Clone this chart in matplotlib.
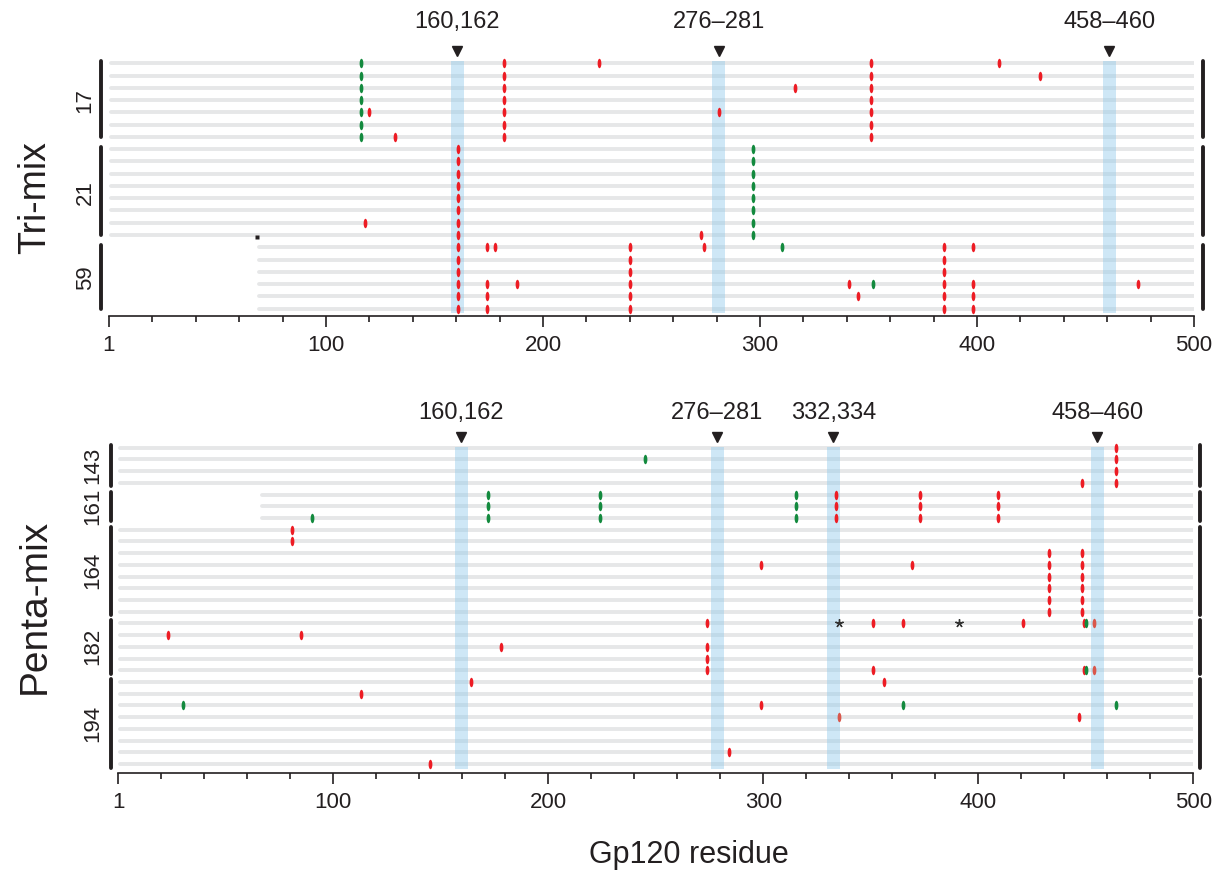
import numpy as np
import matplotlib.pyplot as plt
from matplotlib.path import Path

plt.rcParams['font.family'] = ['Liberation Sans', 'DejaVu Sans']

# ---- Tri-mix panel ----
tri_groups = ['17', '21', '59']
tri_sizes = [7, 8, 6]
tri_starts = [1, 1, 69]
tri_bands = [160.5, 281, 461]
tri_band_labels = ['160,162', '276–281', '458–460']
# (residue, rows)
tri_red = [(120, [4]), (132, [6]), (161, list(range(7, 21))), (118, [13]),
           (174, [15, 18, 19, 20]), (178, [15]), (182, list(range(0, 7))),
           (226, [0]), (188, [18]), (240, list(range(15, 21))), (273, [14]),
           (274, [15]), (281, [4]), (316, [2]), (351, list(range(0, 7))),
           (341, [18]), (345, [19]), (410, [0]), (429, [1]),
           (385, list(range(15, 21))), (398, [15, 18, 19, 20]), (474, [18])]
tri_green = [(116, list(range(0, 7))), (297, list(range(7, 15))), (310, [15]), (352, [18])]
tri_faded = []
tri_dot = [(68, [14])]
tri_star = []

# ---- Penta-mix panel ----
penta_groups = ['143', '161', '164', '182', '194']
penta_sizes = [4, 3, 8, 5, 8]
penta_starts = [1, 67, 1, 1, 1]
penta_bands = [159.6, 278.6, 332.6, 455.4]
penta_band_labels = ['160,162', '276–281', '332,334', '458–460']
penta_red = [(464, [0, 1, 2, 3]), (448, [3]), (334, [4, 5, 6]), (373, [4, 5, 6]),
             (409, [4, 5, 6]), (81, [7, 8]), (299, [10]), (369, [10]),
             (433, list(range(9, 15))), (448, list(range(9, 15))),
             (274, [15, 17, 18, 19]), (351, [15, 19]), (365, [15]), (421, [15]),
             (449, [15, 19]), (23, [16]), (85, [16]), (178, [17]),
             (164, [20]), (356, [20]), (113, [21]), (299, [22]), (447, [23]),
             (284, [26]), (145, [27])]
penta_green = [(245, [1]), (172, [4, 5, 6]), (90, [6]), (224, [4, 5, 6]),
               (315, [4, 5, 6]), (450, [15, 19]), (30, [22]), (365, [22]), (464, [22])]
penta_faded = [(454, [15, 19]), (335, [23])]
penta_dot = []
penta_star = [(335, [15]), (391, [15])]

W, H = 1230, 880
fig = plt.figure(figsize=(12.3, 8.8), dpi=100)

# vertical ellipse marker for the mutation ticks
t = np.linspace(0, 2 * np.pi, 41)
ell = Path(np.column_stack([0.4 * np.cos(t), np.sin(t)]))


def px_axes(left, right, top, bottom):
    return fig.add_axes([left / W, 1 - bottom / H, (right - left) / W, (bottom - top) / H])


def draw_panel(ax, groups, sizes, starts, bands, band_labels, red, green, faded, dot, star,
               ylim, label_y, band_y, bar_off, bar_x, rbar_x, glabel_x):
    ax.set_xlim(0, 500)
    ax.set_ylim(*ylim)
    # gray sequence lines
    r0 = 0
    for g, n, s in zip(groups, sizes, starts):
        rows = np.arange(r0, r0 + n)
        ax.hlines(rows, s, 500, color='#e6e7e8', lw=2.8, capstyle='round', zorder=1)
        a, b = r0 + bar_off[0], r0 + n - 1 + bar_off[1]
        for xx in (bar_x, rbar_x):
            ax.plot([xx, xx], [a, b], color='#231f20', lw=2.8, solid_capstyle='round',
                    clip_on=False, zorder=3)
        ax.text(glabel_x, r0 + (n - 1) / 2, g, rotation=90, ha='center', va='center',
                fontsize=16, color='#231f20', clip_on=False)
        r0 += n
    # highlighted residue bands
    ax.bar(bands, band_y[1] - band_y[0], bottom=band_y[0], width=6, color='#8cc8eb',
           alpha=0.42, lw=0, zorder=2)
    ax.plot(bands, [ylim[1]] * len(bands), 'v', color='#231f20', ms=7.5, clip_on=False, zorder=4)
    for bx, bl in zip(bands, band_labels):
        ax.text(bx, label_y, bl, ha='center', va='center', fontsize=17, color='#231f20',
                clip_on=False)
    # mutations
    for data, col in ((red, '#ed1c24'), (green, '#138a3e'), (faded, '#d9574b')):
        for res, rows in data:
            ax.plot([res] * len(rows), rows, ls='none', marker=ell, ms=6.8, color=col,
                    mec='none', zorder=5)
    for res, rows in dot:
        ax.plot([res] * len(rows), np.array(rows) + 0.2, 's', ms=2.4, color='#231f20',
                mec='none', zorder=5)
    for res, rows in star:
        ax.plot([res] * len(rows), rows, ls='none', marker=(5, 2, 0), ms=6, color='#333333',
                mew=1, zorder=5)
    # axis styling
    for sp in ('top', 'left', 'right'):
        ax.spines[sp].set_visible(False)
    ax.spines['bottom'].set_linewidth(1.2)
    ax.spines['bottom'].set_color('#231f20')
    ax.set_yticks([])
    ax.set_xticks(np.arange(0, 501, 100))
    ax.set_xticklabels(['1', '100', '200', '300', '400', '500'])
    ax.set_xticks(np.arange(0, 501, 20), minor=True)
    ax.tick_params(axis='x', which='major', length=8, width=1.2, color='#231f20',
                   labelsize=16, pad=6, labelcolor='#231f20')
    ax.tick_params(axis='x', which='minor', length=4.2, width=1.2, color='#231f20')
    ax.patch.set_visible(False)


ax1 = px_axes(109, 1194, 51, 316)
draw_panel(ax1, tri_groups, tri_sizes, tri_starts, tri_bands, tri_band_labels,
           tri_red, tri_green, tri_faded, tri_dot, tri_star,
           ylim=(20.6, -1.0), label_y=-3.36, band_y=(-0.21, 20.32), bar_off=(-0.15, 0.0),
           bar_x=-3.7, rbar_x=504.0, glabel_x=-11.0)

ax2 = px_axes(118.3, 1193.3, 437, 772.7)
draw_panel(ax2, penta_groups, penta_sizes, penta_starts, penta_bands, penta_band_labels,
           penta_red, penta_green, penta_faded, penta_dot, penta_star,
           ylim=(27.74, -0.91), label_y=-2.96, band_y=(-0.09, 27.44), bar_off=(-0.25, 0.3),
           bar_x=-3.4, rbar_x=503.1, glabel_x=-11.8)

fig.text(35 / W, 1 - 198 / H, 'Tri-mix', rotation=90, ha='center', va='center',
         fontsize=27, color='#231f20')
fig.text(35 / W, 1 - 606 / H, 'Penta-mix', rotation=90, ha='center', va='center',
         fontsize=28, color='#231f20')
fig.text(689 / W, 1 - 855 / H, 'Gp120 residue', ha='center', va='center',
         fontsize=22, color='#231f20')

fig.savefig('out.png', dpi=100)
